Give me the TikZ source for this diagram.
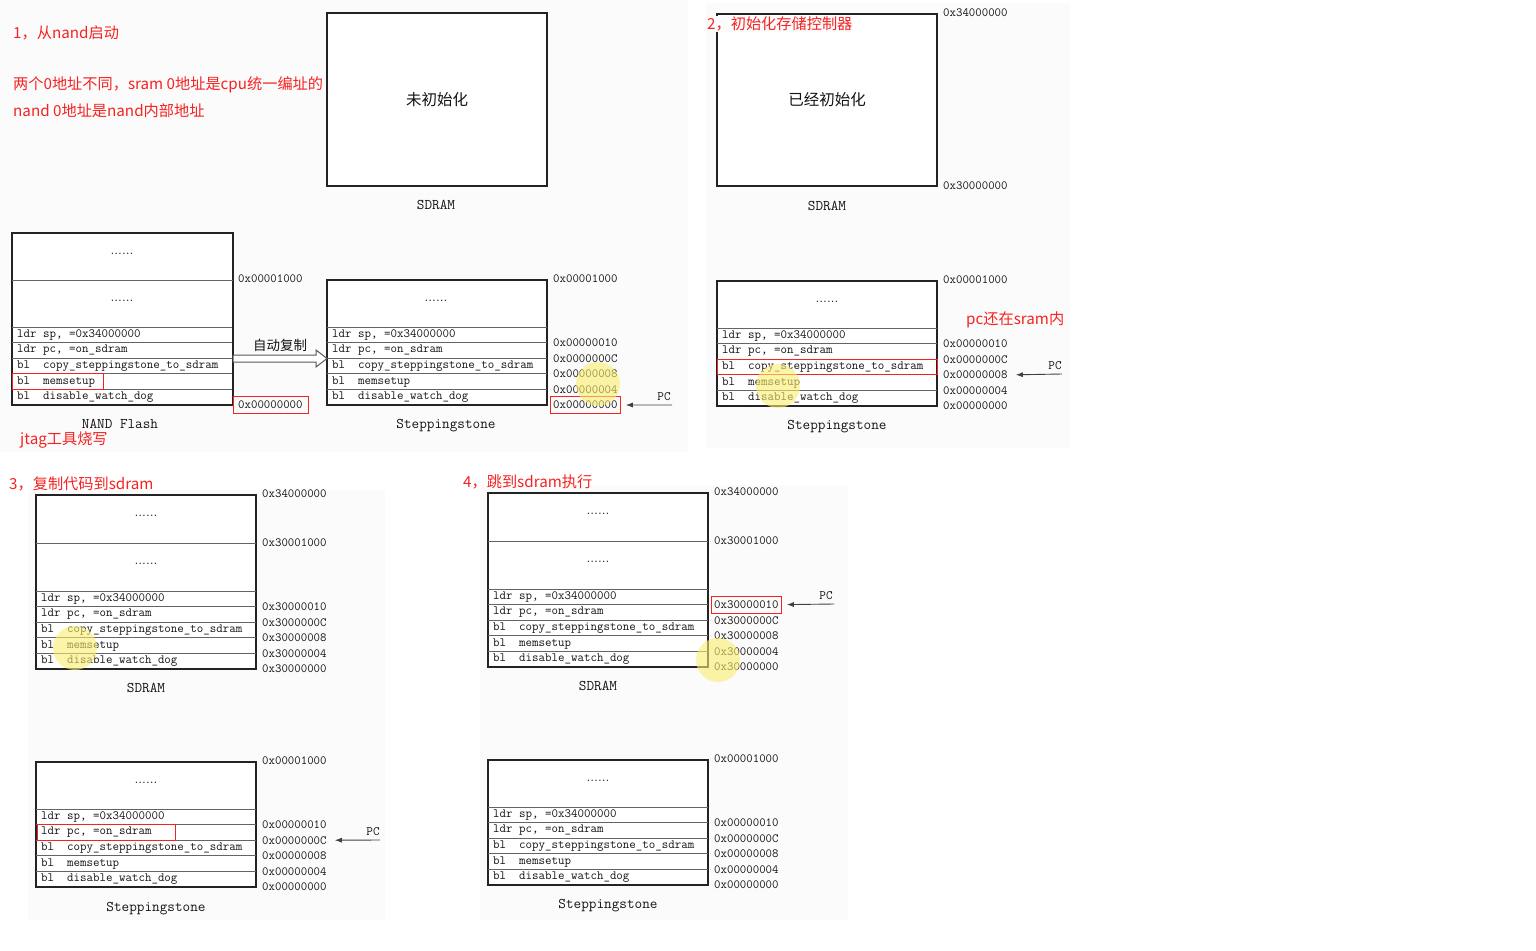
\documentclass[tikz,border=0pt]{standalone}
\usepackage{fontspec}
\newfontfamily\cjk{Noto Sans CJK SC}
\usetikzlibrary{calc,arrows.meta}
\definecolor{redtxt}{RGB}{246,34,34}
\definecolor{boxline}{RGB}{35,35,35}
\definecolor{rowline}{RGB}{100,100,100}
\definecolor{panelbg}{RGB}{251,251,251}
\definecolor{txtgray}{RGB}{20,20,20}
\definecolor{hilite}{RGB}{250,238,110}

\newcommand\memcode[3]{% name, x left, y top of code rows
  \foreach \k/\txt in {1/{ldr sp, =0x34000000},2/{ldr pc, =on\_sdram},3/{bl\ \ copy\_steppingstone\_to\_sdram},4/{bl\ \ memsetup},5/{bl\ \ disable\_watch\_dog}}{%
    \node[code] (#1r\k) at ({#2+5},{#3+(\k-0.5)*15.6}) {\txt};
  }
  \foreach \k in {0,...,4}{\draw[rowsep] ({#2},{#3+\k*15.6}) -- ++(220,0);}
}
\newcommand\memaddr[4]{% name, x, y top of code rows, prefix
  \foreach \k/\ad in {1/0010,2/000C,3/0008,4/0004,5/0000}{%
    \node[addr] (#1a\ad) at ({#2},{#3+\k*15.6}) {0x#4\ad};
  }
}

\begin{document}
\begin{tikzpicture}[x=1pt,y=-1pt,
  redlabel/.style={text=redtxt, font=\cjk\fontsize{15.2}{18}\selectfont, anchor=west, inner sep=0pt},
  code/.style={font=\ttfamily\fontsize{12.6}{14}\selectfont, anchor=west, inner sep=0pt, text=txtgray},
  addr/.style={font=\ttfamily\fontsize{12.5}{14}\selectfont, anchor=west, inner sep=0pt, text=txtgray},
  caption/.style={font=\ttfamily\fontsize{14.8}{16}\selectfont, inner sep=0pt, text=txtgray},
  dots/.style={font=\rmfamily\fontsize{14}{16}\selectfont, inner sep=0pt, text=txtgray},
  membox/.style={draw=boxline, line width=1.7pt, fill=white, anchor=north west, inner sep=0pt, outer sep=0pt, text=txtgray},
  rowsep/.style={draw=rowline, line width=1pt},
  redbox/.style={draw=redtxt, line width=1pt},
  pcarrow/.style={draw=black!75, line width=0.9pt, -{Latex[length=7pt,width=5pt]}},
  pclabel/.style={font=\ttfamily\fontsize{12.8}{14}\selectfont, inner sep=0pt, text=txtgray},
  hollow/.style={draw=black!65, line width=1pt, fill=white},
  light/.style={fill=hilite, fill opacity=0.6, draw=none}
]
\useasboundingbox (0,0) rectangle (1536,950);
\fill[white] (0,0) rectangle (1536,950);
% panel backgrounds
\fill[panelbg] (0,0) rectangle (688,452);
\fill[panelbg] (706,3) rectangle (1070,448);
\fill[panelbg] (28,490) rectangle (385,920);
\fill[panelbg] (480,485) rectangle (848,920);

% ================= panel 1 =================
\node[redlabel] (t1a) at (13,33) {1，从nand启动};
\node[redlabel] (t1b) at (13,85) {两个0地址不同，sram 0地址是cpu统一编址的};
\node[redlabel] (t1c) at (13,111) {nand 0地址是nand内部地址};

\node[membox, minimum width=220, minimum height=173, font=\cjk\fontsize{15.5}{18}\selectfont] (sd1) at (327,13) {未初始化};
\node[caption] (sd1cap) at (436,205) {SDRAM};

% NAND flash
\node[membox, minimum width=221, minimum height=172] (nand) at (12,233) {};
\draw[rowsep] (12,280) -- (233,280);
\node[dots] (nandd1) at (122,254) {......};
\node[dots] (nandd2) at (122,301) {......};
\memcode{nand}{12}{327}
\node[addr] (nandtop) at (238,279) {0x00001000};
\node[addr] (nandzero) at (238,405) {0x00000000};
\draw[redbox] ($(nandzero.west)+(-4.5,-9)$) rectangle ($(nandzero.east)+(6,8.5)$);
\draw[redbox] (12,373.8) rectangle (103,389.4);
\node[caption] (nandcap) at (120,424) {NAND Flash};
\node[redlabel] (jtag) at (20,440) {jtag工具烧写};

% Steppingstone 1
\node[membox, minimum width=220, minimum height=125] (st1) at (327,280) {};
\node[dots] (st1d) at (436,301) {......};
\memcode{st1}{327}{327}
\node[addr] (st1top) at (553,279) {0x00001000};
\memaddr{st1}{553}{327}{0000}
\draw[redbox] ($(st1a0000.west)+(-3,-8.5)$) rectangle ($(st1a0000.east)+(3,8.5)$);
\coordinate (pc1) at (672,405);
\draw[pcarrow] (pc1) -- ([xshift=8pt]st1a0000.east);
\node[pclabel] (pc1t) at (664,397) {PC};
\node[caption] (st1cap) at (446,426) {Steppingstone};

% copy arrow
\draw[hollow] ($(nand.east)+(0,36)$) -- ++(83,0) -- ++(0,-5) -- ($(st1.west)+(0,16)$) -- ++(-11,8.5) -- ++(0,-5) -- ($(nand.east)+(0,43)$) -- cycle;
\node[font=\cjk\fontsize{13.5}{15}\selectfont, text=txtgray, inner sep=0pt] (copytxt) at (280,345) {自动复制};

% ================= panel 2 =================
\node[membox, minimum width=220, minimum height=172, font=\cjk\fontsize{15.5}{18}\selectfont] (sd2) at (717,14) {已经初始化};
\node[redlabel, fill=panelbg, inner sep=1pt] (t2) at (706,24) {2，初始化存储控制器};
\node[addr] (sd2top) at (943,13) {0x34000000};
\node[addr] (sd2bot) at (943,186) {0x30000000};
\node[caption] (sd2cap) at (827,206) {SDRAM};

\node[membox, minimum width=220, minimum height=125] (st2) at (717,281) {};
\node[dots] (st2d) at (827,302) {......};
\memcode{st2}{717}{328}
\node[addr] (st2top) at (943,280) {0x00001000};
\memaddr{st2}{943}{328}{0000}
\draw[redbox] (717,359.2) rectangle (937,374.8);
\coordinate (pc2) at (1062,374);
\draw[pcarrow] (pc2) -- ([xshift=8pt]st2a0008.east);
\node[pclabel] (pc2t) at (1055,366) {PC};
\node[redlabel] (t2b) at (966,320) {pc还在sram内};
\node[caption] (st2cap) at (837,427) {Steppingstone};

% ================= panel 3 =================
\node[redlabel] (t3) at (9,484) {3，复制代码到sdram};
\node[membox, minimum width=220, minimum height=174] (sd3) at (36,495) {};
\draw[rowsep] (36,543) -- (256,543);
\node[dots] (sd3d1) at (146,516) {......};
\node[dots] (sd3d2) at (146,564) {......};
\memcode{sd3}{36}{591}
\node[addr] (sd3top) at (262,494) {0x34000000};
\node[addr] (sd3mid) at (262,543) {0x30001000};
\memaddr{sd3}{262}{591}{3000}
\node[caption] (sd3cap) at (146,688) {SDRAM};

\node[membox, minimum width=220, minimum height=125] (st3) at (36,762) {};
\node[dots] (st3d) at (146,783) {......};
\memcode{st3}{36}{809}
\node[addr] (st3top) at (262,761) {0x00001000};
\memaddr{st3}{262}{809}{0000}
\draw[redbox] (37,824.6) rectangle (175,840.2);
\coordinate (pc3) at (380,840);
\draw[pcarrow] (pc3) -- ([xshift=8pt]st3a000C.east);
\node[pclabel] (pc3t) at (373,832) {PC};
\node[caption] (st3cap) at (156,909) {Steppingstone};

% ================= panel 4 =================
\node[redlabel] (t4) at (463,482) {4，跳到sdram执行};
\node[membox, minimum width=220, minimum height=174] (sd4) at (488,493) {};
\draw[rowsep] (488,541) -- (708,541);
\node[dots] (sd4d1) at (598,514) {......};
\node[dots] (sd4d2) at (598,562) {......};
\memcode{sd4}{488}{589}
\node[addr] (sd4top) at (714,492) {0x34000000};
\node[addr] (sd4mid) at (714,541) {0x30001000};
\memaddr{sd4}{714}{589}{3000}
\draw[redbox] ($(sd4a0010.west)+(-3,-8.5)$) rectangle ($(sd4a0010.east)+(3,8.5)$);
\coordinate (pc4) at (834,604);
\draw[pcarrow] (pc4) -- ([xshift=8pt]sd4a0010.east);
\node[pclabel] (pc4t) at (826,596) {PC};
\node[caption] (sd4cap) at (598,686) {SDRAM};

\node[membox, minimum width=220, minimum height=125] (st4) at (488,760) {};
\node[dots] (st4d) at (598,781) {......};
\memcode{st4}{488}{807}
\node[addr] (st4top) at (714,759) {0x00001000};
\memaddr{st4}{714}{807}{0000}
\node[caption] (st4cap) at (608,906) {Steppingstone};

% cursor highlights
\fill[light] (598,384) circle (22);
\fill[light] (778,386) circle (22);
\fill[light] (75,648) circle (22);
\fill[light] (718,660) circle (22);
\end{tikzpicture}
\end{document}
